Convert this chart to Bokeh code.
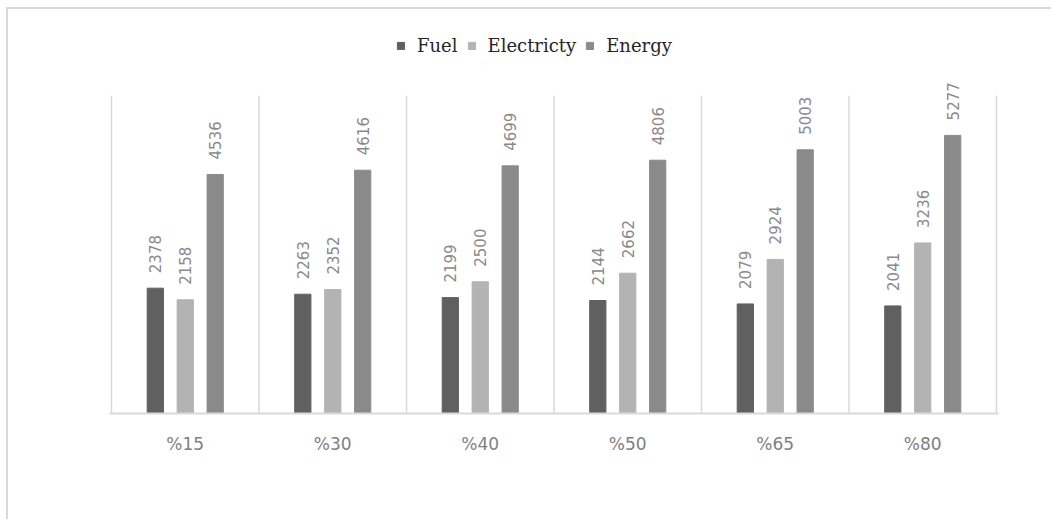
from bokeh.plotting import figure
from bokeh.models import ColumnDataSource, FixedTicker, Legend, LegendItem
from bokeh.core.properties import value
from bokeh.embed import file_html
from bokeh.resources import INLINE

categories = ["%15", "%30", "%40", "%50", "%65", "%80"]
fuel = [2378, 2263, 2199, 2144, 2079, 2041]
electricity = [2158, 2352, 2500, 2662, 2924, 3236]
energy = [4536, 4616, 4699, 4806, 5003, 5277]
series_names = ["Fuel", "Electricty", "Energy"]
colors = ["#606060", "#b3b3b3", "#8a8a8a"]
boundaries = [0, 1, 2, 3, 4, 5, 6]
sep_top = 6030

centers = [i + 0.5 for i in range(len(categories))]
offsets = [-0.203, 0.0, 0.203]

p = figure(width=1045, height=512, x_range=(-0.0136, 6.0136), y_range=(0, 7457),
           output_backend="svg", toolbar_location=None,
           min_border_left=101, min_border_right=55, min_border_top=11,
           min_border_bottom=108,
           styles={"margin-left": "6px", "margin-top": "7px",
                   "border-top": "2px solid #d9d9d9",
                   "border-left": "2px solid #d9d9d9"})
p.outline_line_color = None
p.background_fill_color = "white"
p.border_fill_color = "white"
p.xgrid.grid_line_color = None
p.ygrid.grid_line_color = None

p.segment(x0=boundaries, y0=[0] * len(boundaries), x1=boundaries,
          y1=[sep_top] * len(boundaries), line_color="#d9d9d9", line_width=1.5)

items = []
for name, vals, off, col in zip(series_names, [fuel, electricity, energy], offsets, colors):
    src = ColumnDataSource(dict(x=[c + off for c in centers], top=vals,
                                lab=[str(v) for v in vals]))
    r = p.vbar(x="x", top="top", width=0.11, bottom=0, source=src,
               fill_color=col, line_color=col)
    p.text(x="x", y="top", text="lab", source=src, angle=1.5708,
           text_align="left", text_baseline="middle", y_offset=-15,
           text_font=value("DejaVu Sans"), text_font_size="15px",
           text_color="#8a8a8a")
    items.append(LegendItem(label=name, renderers=[r]))

legend = Legend(items=items, orientation="horizontal", location=(287, 357),
                glyph_width=9, glyph_height=9, label_standoff=12,
                spacing=9, padding=0, margin=0,
                label_text_font="DejaVu Serif", label_text_font_size="18px",
                label_text_color="#262626", border_line_color=None,
                background_fill_alpha=0)
p.add_layout(legend, "center")

p.yaxis.visible = False

p.xaxis.ticker = FixedTicker(ticks=centers)
p.xaxis.major_label_overrides = {c: lab for c, lab in zip(centers, categories)}
p.xaxis.axis_line_color = "#d9d9d9"
p.xaxis.axis_line_width = 2
p.xaxis.major_tick_line_color = None
p.xaxis.minor_tick_line_color = None
p.xaxis.major_tick_out = 0
p.xaxis.major_tick_in = 0
p.xaxis.major_label_standoff = 20
p.xaxis.major_label_text_font = "DejaVu Sans"
p.xaxis.major_label_text_font_size = "17px"
p.xaxis.major_label_text_color = "#808080"

open("out.html", "w").write(file_html(p, INLINE))
